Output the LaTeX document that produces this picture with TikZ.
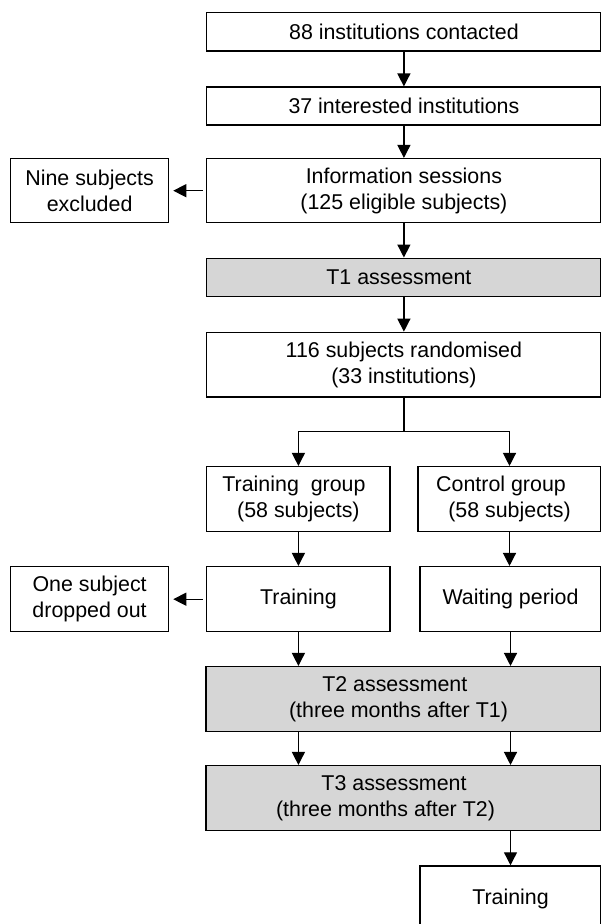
\documentclass[tikz,border=0pt]{standalone}
\usepackage{fontspec}
\setmainfont{Liberation Sans}
\usetikzlibrary{arrows.meta}
\definecolor{assessgrey}{gray}{0.84}

\begin{document}
\begin{tikzpicture}[x=0.5pt,y=-0.5pt]
            \tikzstyle{stage}=[rectangle, draw=black, line width=0.75pt, align=center, inner sep=0pt, font=\fontsize{10.7}{12.9}\selectfont]
            \tikzstyle{wide}=[stage, minimum width=197.2pt]
            \tikzstyle{half}=[stage, minimum width=91.7pt]
            \tikzstyle{side}=[stage, minimum width=78.9pt]
            \tikzstyle{assess}=[fill=assessgrey]
            \tikzstyle{connect}=[line width=0.65pt, -{Triangle[length=6.5pt,width=6.5pt]}]
            \useasboundingbox (0,0) rectangle (600,924);
            % main column
            \node[wide, minimum height=19.2pt] (contacted) at (403.9,31.8){88 institutions contacted};
            \node[wide, minimum height=19pt] (interested) at (403.9,106.2){37 interested institutions};
            \node[wide, minimum height=32pt] (sessions) at (403.9,190.7){Information sessions\\(125 eligible subjects)};
            \node[side, minimum height=32pt] (excluded) at (89.6,190.7){Nine subjects\\excluded};
            \node[wide, assess, minimum height=19.2pt] (tone) at (403.9,277.5){T1 assessment\hspace*{5pt}};
            \node[wide, minimum height=32.3pt] (rand) at (403.9,364.7){116 subjects randomised\\(33 institutions)};
            % two groups
            \node[half, minimum height=32.5pt] (traingroup) at (298.4,499.2){Training\ \ group\hspace*{4.4pt}\\(58 subjects)};
            \node[half, minimum width=91.5pt, minimum height=32.5pt] (ctrlgroup) at (509.5,499.2){Control group\hspace*{8.5pt}\\(58 subjects)};
            \node[half, minimum height=32.5pt] (training) at (298.4,599.2){Training};
            \node[side, minimum height=32.5pt] (dropped) at (89.6,599.2){One subject\\dropped out};
            \node[half, minimum width=90.5pt, minimum height=32.5pt] (waiting) at (510.5,599.2){Waiting period};
            % assessments
            \node[wide, assess, minimum width=197.5pt, minimum height=32.5pt] (ttwo) at (403.5,699.2){T2 assessment\hspace*{8.7pt}\\(three months after T1)\hspace*{5pt}};
            \node[wide, assess, minimum width=197.5pt, minimum height=32.5pt] (tthree) at (403.5,798.2){T3 assessment\hspace*{9.5pt}\\(three months after T2)\hspace*{18pt}};
            \node[half, minimum width=90.5pt, minimum height=32.5pt] (final) at (510.5,898.5){Training};
            \coordinate (split) at (403.9,431.7);

            \path (contacted) edge [connect] (interested);
            \path (interested) edge [connect] (sessions);
            \path (sessions) edge [connect] (tone);
            \path (sessions) edge [connect, shorten <=1.7pt, shorten >=2pt] (excluded);
            \path (tone) edge [connect] (rand);

            \draw[line width=0.65pt] (rand) -- (split);
            \draw[connect] (split) -| (traingroup);
            \draw[connect] (split) -| (ctrlgroup);

            \path (traingroup) edge [connect] (training);
            \path (ctrlgroup) edge [connect] (ctrlgroup |- waiting.north);
            \path (training) edge [connect, shorten <=1.7pt, shorten >=2pt] (dropped);

            \path (training) edge [connect] (training |- ttwo.north);
            \path (waiting) edge [connect] (waiting |- ttwo.north);
            \path (ttwo.south -| training) edge [connect] (tthree.north -| training);
            \path (ttwo.south -| waiting) edge [connect] (tthree.north -| waiting);
            \path (tthree.south -| final) edge [connect] (final);
        \end{tikzpicture}
\end{document}
